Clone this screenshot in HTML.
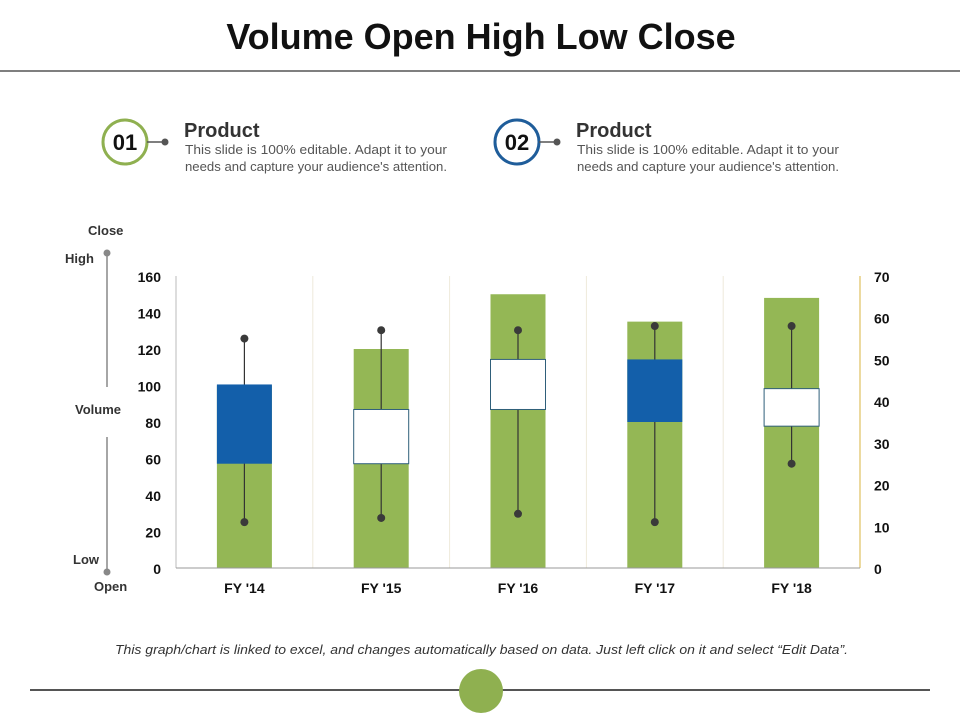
<!DOCTYPE html>
<html><head><meta charset="utf-8"><style>
body{margin:0;background:#fff;font-family:"Liberation Sans",sans-serif}
#wrap{position:relative;width:960px;height:720px;overflow:hidden}
</style></head><body>
<div id="wrap">
<svg id="svg" width="960" height="720" xmlns="http://www.w3.org/2000/svg">
<text x="481" y="49" text-anchor="middle" font-size="36" font-weight="bold" fill="#111">Volume Open High Low Close</text>
<line x1="0" y1="71" x2="960" y2="71" stroke="#555" stroke-width="1.5"/>
<g>
<circle cx="125" cy="142" r="22" fill="#fff" stroke="#8fb050" stroke-width="3"/>
<text x="125" y="150" text-anchor="middle" font-size="22" font-weight="bold" fill="#111">01</text>
<line x1="147" y1="142" x2="165" y2="142" stroke="#555" stroke-width="1.5"/><circle cx="165" cy="142" r="3.5" fill="#555"/>
<text x="184" y="137" font-size="20" font-weight="bold" fill="#333">Product</text>
<text x="185" y="154" font-size="13" fill="#555" textLength="262" lengthAdjust="spacingAndGlyphs">This slide is 100% editable. Adapt it to your</text>
<text x="185" y="171" font-size="13" fill="#555" textLength="262" lengthAdjust="spacingAndGlyphs">needs and capture your audience's attention.</text>
</g>
<g>
<circle cx="517" cy="142" r="22" fill="#fff" stroke="#1f5d9a" stroke-width="3"/>
<text x="517" y="150" text-anchor="middle" font-size="22" font-weight="bold" fill="#111">02</text>
<line x1="539" y1="142" x2="557" y2="142" stroke="#555" stroke-width="1.5"/><circle cx="557" cy="142" r="3.5" fill="#555"/>
<text x="576" y="137" font-size="20" font-weight="bold" fill="#333">Product</text>
<text x="577" y="154" font-size="13" fill="#555" textLength="262" lengthAdjust="spacingAndGlyphs">This slide is 100% editable. Adapt it to your</text>
<text x="577" y="171" font-size="13" fill="#555" textLength="262" lengthAdjust="spacingAndGlyphs">needs and capture your audience's attention.</text>
</g>
<g font-size="13" font-weight="bold" fill="#333">
<text x="88" y="235">Close</text>
<text x="65" y="263">High</text>
<circle cx="107" cy="253" r="3.5" fill="#888"/>
<line x1="107" y1="253" x2="107" y2="387" stroke="#888" stroke-width="1.5"/>
<text x="75" y="414">Volume</text>
<line x1="107" y1="437" x2="107" y2="572" stroke="#888" stroke-width="1.5"/>
<circle cx="107" cy="572" r="3.5" fill="#888"/>
<text x="73" y="564">Low</text>
<text x="94" y="591">Open</text>
</g>
<g id="chart"></g>
<text x="115" y="654" font-size="13" font-style="italic" fill="#333" textLength="733" lengthAdjust="spacingAndGlyphs">This graph/chart is linked to excel,  and changes automatically based on data. Just left click on it and select “Edit Data”.</text>
<line x1="30" y1="690" x2="930" y2="690" stroke="#555" stroke-width="2"/>
<circle cx="481" cy="691" r="22" fill="#8fb050"/>
</svg>
</div>
<script>
const categories=["FY '14","FY '15","FY '16","FY '17","FY '18"];
const volume=[100,120,150,135,148];
const openV=[44,25,38,50,34];
const highV=[55,57,57,58,58];
const lowV=[11,12,13,11,25];
const closeV=[25,38,50,35,43];
const leftTicks=[0,20,40,60,80,100,120,140,160];
const rightTicks=[0,10,20,30,40,50,60,70];
const NS="http://www.w3.org/2000/svg";
const g=document.getElementById('chart');
const X0=176,X1=860,Y0=568,Y1=276;
const yL=v=>Y0-(v/160)*(Y0-Y1);
const yR=v=>Y0-(v/70)*(Y0-Y1);
const band=(X1-X0)/categories.length;
const xC=i=>X0+band*(i+0.5);
function mk(t,a,name){const e=document.createElementNS(NS,t);for(const k in a)e.setAttribute(k,a[k]);


g.appendChild(e);return e;}
for(let i=1;i<categories.length;i++){mk('line',{x1:X0+band*i,y1:Y1,x2:X0+band*i,y2:Y0,stroke:'#eeeadb','stroke-width':1},'gridline');}
mk('line',{x1:X0,y1:Y1,x2:X0,y2:Y0,stroke:'#bbb','stroke-width':1},'left-axis-line');
mk('line',{x1:X1,y1:Y1,x2:X1,y2:Y0,stroke:'#e0c060','stroke-width':1.2},'right-axis-line');
leftTicks.forEach(v=>{const t=mk('text',{x:161,y:yL(v)+6,'text-anchor':'end','font-size':14,'font-weight':'bold',fill:'#111'},'left-tick-label');t.textContent=v;});
rightTicks.forEach(v=>{const t=mk('text',{x:874,y:yR(v)+6,'font-size':14,'font-weight':'bold',fill:'#111'},'right-tick-label');t.textContent=v;});
const bw=55;
categories.forEach((c,i)=>{
 const x=xC(i);
 mk('rect',{x:x-bw/2,y:yL(volume[i]),width:bw,height:Y0-yL(volume[i]),fill:'#94b755'},'volume-bar');
 mk('line',{x1:x,y1:yR(highV[i]),x2:x,y2:yR(lowV[i]),stroke:'#333','stroke-width':1.2},'high-low-line');
 mk('circle',{cx:x,cy:yR(highV[i]),r:4,fill:'#3a3a3a'},'high-marker');
 mk('circle',{cx:x,cy:yR(lowV[i]),r:4,fill:'#3a3a3a'},'low-marker');
 const up=closeV[i]>=openV[i];
 const top=yR(Math.max(openV[i],closeV[i])),bot=yR(Math.min(openV[i],closeV[i]));
 mk('rect',{x:x-bw/2,y:top,width:bw,height:bot-top,fill:up?'#fff':'#135faa',stroke:up?'#2f5f7a':'none','stroke-width':1},up?'up-box':'down-box');
 const t=mk('text',{x:x,y:593,'text-anchor':'middle','font-size':14,'font-weight':'bold',fill:'#111'},'x-tick-label');t.textContent=c;
});
mk('line',{x1:X0,y1:Y0,x2:X1,y2:Y0,stroke:'#999','stroke-width':1},'x-axis-line');
</script>
</body></html>
